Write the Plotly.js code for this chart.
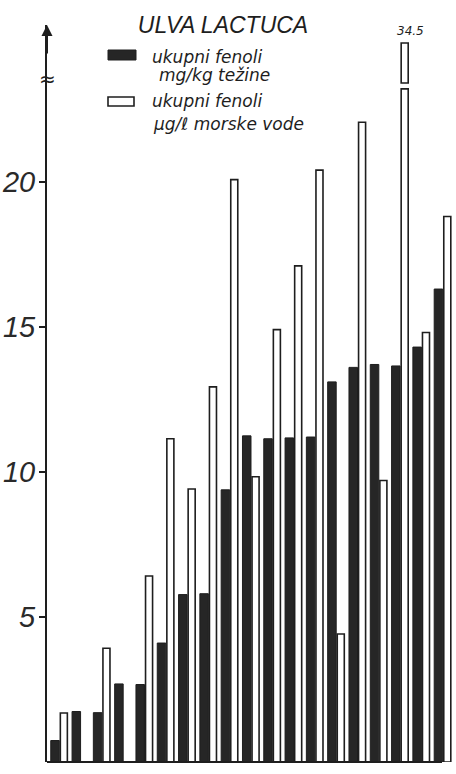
<!DOCTYPE html>
<html><head><meta charset="utf-8">
<script src="https://cdn.plot.ly/plotly-3.0.1.min.js"></script>
<style>html,body{margin:0;padding:0;background:#fff}#chart{width:456px;height:774px}</style>
</head><body><div id="chart"></div>
<script>
// ---- data ----
const groups = [1,2,3,4,5,6,7,8,9,10,11,12,13,14,15,16,17,18,19];
const blackVals = [0.74,1.74,1.7,2.69,2.67,4.1,5.77,5.8,9.38,11.24,11.14,11.17,11.2,13.1,13.6,13.7,13.65,14.3,16.3];
const whiteVals = [1.69,null,3.92,null,6.41,11.14,9.41,12.93,20.07,9.83,14.9,17.1,20.4,4.41,22.05,9.7,34.5,14.8,18.8];
const blackName = "ukupni fenoli<br>mg/kg težine";
const whiteName = "ukupni fenoli<br>μg/ℓ morske vode";
const titleText = "ULVA LACTUCA";
const yTickVals = [5,10,15,20];
const yTickText = ["5","10","15","20"];

// ---- styles / axis-break settings ----
const W = 456, H = 774, ML = 47, MR = 0, MT = 25, MB = 12;
const PW = W - ML - MR, PH = H - MT - MB;
const px = x => (x - ML) / PW;          // pixel -> paper x
const py = y => 1 - (y - MT) / PH;      // pixel -> paper y
const AXIS_TOP = 25.4;
const BREAK_LOW = 23.2;
const UPPER_BASE = 23.4;
const UPPER_TOP = 24.78;
const ink = '#1e1e1e';
const hand = {family: 'DejaVu Sans, Liberation Sans, sans-serif', style: 'italic', color: ink};

const whiteShown = whiteVals.map(v => v == null ? null : (v > AXIS_TOP ? BREAK_LOW : v));
const brokenIdx = whiteVals.map((v,i) => (v != null && v > AXIS_TOP) ? i : -1).filter(i => i >= 0);

const traces = [
  {type:'bar', x: groups, y: blackVals, name: blackName,
   offset: -0.42, width: 0.4,
   marker:{color:'#262626', line:{color: ink, width:1}}, showlegend:false, hoverinfo:'skip'},
  {type:'bar', x: groups, y: whiteShown, name: whiteName,
   offset: 0.03, width: 0.33,
   marker:{color:'#ffffff', line:{color: ink, width:1.6}}, showlegend:false, hoverinfo:'skip'},
  {type:'bar', x: brokenIdx.map(i => groups[i]), y: brokenIdx.map(() => UPPER_TOP - UPPER_BASE),
   base: brokenIdx.map(() => UPPER_BASE),
   offset: 0.03, width: 0.33,
   marker:{color:'#ffffff', line:{color: ink, width:1.6}}, showlegend:false, hoverinfo:'skip'}
];

const annotations = [];
annotations.push({xref:'paper', yref:'y', x:0, y:AXIS_TOP, ax:0, ay:30, text:'', showarrow:true,
  arrowhead:2, arrowsize:1.1, arrowwidth:2, arrowcolor: ink});
annotations.push({xref:'paper', yref:'y', x:0, y:23.55, text:'≈', showarrow:false,
  font:{family:'DejaVu Sans', size:20, color: ink}, xanchor:'center', yanchor:'middle'});
brokenIdx.forEach(i => annotations.push({xref:'x', yref:'y', x: groups[i] + 0.45, y: UPPER_TOP + 0.12,
  text: String(whiteVals[i]), showarrow:false, yanchor:'bottom', xanchor:'center',
  font: Object.assign({}, hand, {size: 12})}));

const legendEntries = [
  {lines: blackName.split('<br>'), ys:[57,75], xs:[150,157]},
  {lines: whiteName.split('<br>'), ys:[101,124], xs:[150,151]}
];
legendEntries.forEach(e => e.lines.forEach((t,k) => annotations.push({
  xref:'paper', yref:'paper', x: px(e.xs[k]), y: py(e.ys[k]), xanchor:'left', yanchor:'middle',
  text: t, showarrow:false, font: Object.assign({}, hand, {size: 17})
})));

const shapes = [
  {type:'rect', xref:'paper', yref:'paper', x0:px(108), x1:px(136), y0:py(60), y1:py(50),
   fillcolor:'#262626', line:{color: ink, width:1}},
  {type:'rect', xref:'paper', yref:'paper', x0:px(108), x1:px(134), y0:py(106), y1:py(97),
   fillcolor:'#fff', line:{color: ink, width:1.6}},
  {type:'line', xref:'paper', yref:'paper', x0:0, x1:px(442), y0:0, y1:0, line:{color: ink, width:2}}
];

const layout = {
  width:W, height:H,
  margin:{l:ML, r:MR, t:MT, b:MB},
  paper_bgcolor:'#fff', plot_bgcolor:'#fff',
  barmode:'overlay',
  title:{text: titleText, x: 223/W, xanchor:'center', y: 1 - 25/H, yanchor:'middle', yref:'container',
         font: Object.assign({}, hand, {family:'Liberation Sans, sans-serif', size: 23})},
  xaxis:{range:[0.404, 19.604], showgrid:false, zeroline:false, showline:false, showticklabels:false, ticks:''},
  yaxis:{range:[0, AXIS_TOP], showgrid:false, zeroline:false, showline:true, linecolor: ink, linewidth:2,
         tickvals: yTickVals, ticktext: yTickText, ticks:'outside', ticklen:6, tickwidth:2, tickcolor: ink,
         ticklabelstandoff: -2,
         tickfont: {family:'Liberation Sans, sans-serif', style:'italic', size: 29, color:'#2a2a2a'}},
  annotations, shapes
};

Plotly.newPlot('chart', traces, layout, {staticPlot:true, displayModeBar:false});
</script></body></html>
